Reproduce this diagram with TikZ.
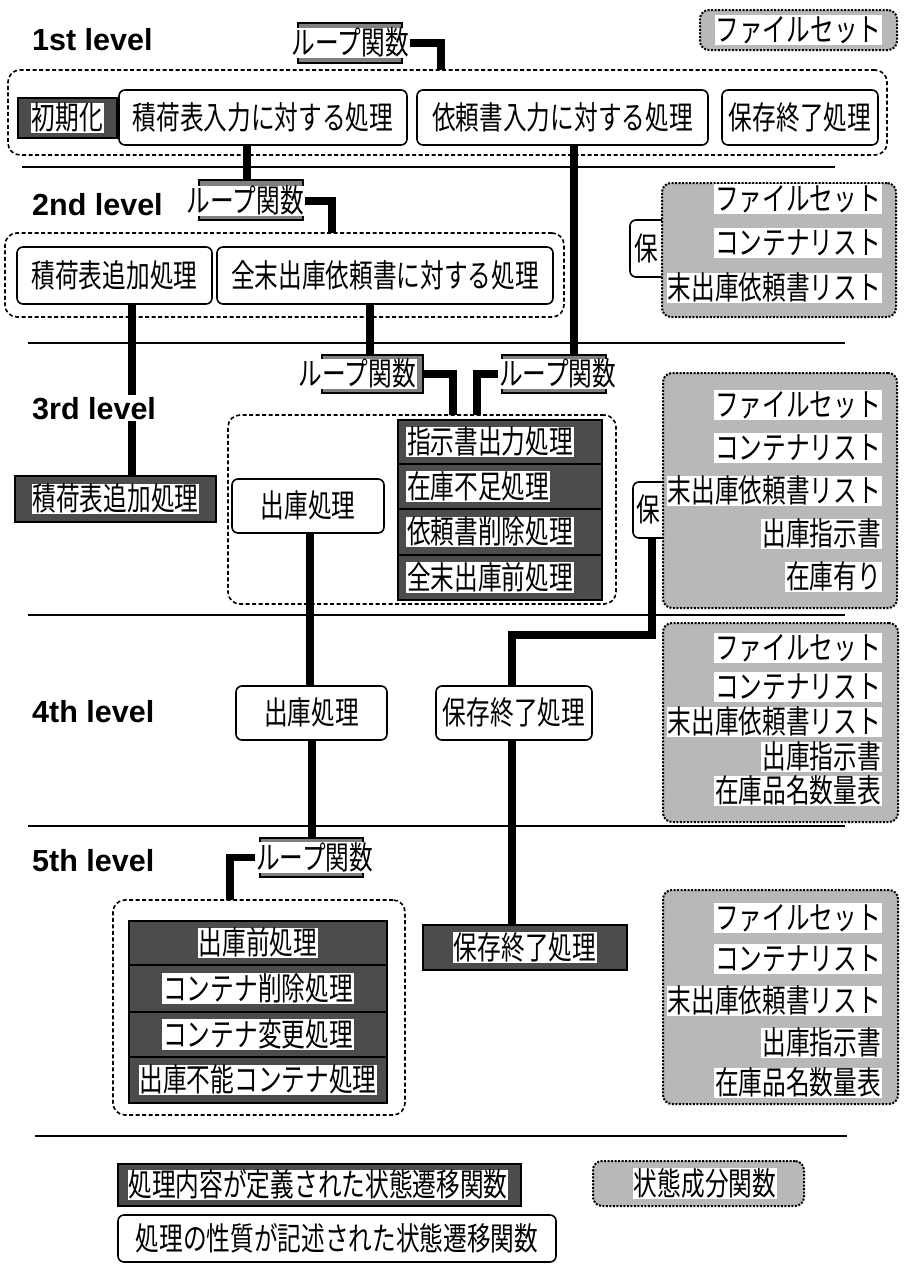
\documentclass[tikz,border=0pt]{standalone}
\usepackage{fontspec}
\newfontfamily\jp[FakeStretch=0.74]{Noto Sans CJK JP}
\newfontfamily\lvf{Liberation Sans}
\newcommand\jpf{\jp\fontsize{32}{34}\selectfont}
\newcommand\lvfont{\lvf\bfseries\fontsize{30.5}{32}\selectfont}
\pgfdeclarelayer{bg}
\pgfsetlayers{bg,main}
\begin{document}
\begin{tikzpicture}[x=1pt,y=-1pt,
  lvl/.style={font=\lvfont, anchor=west, fill=white, inner xsep=1pt, inner ysep=2pt, text height=22pt, text depth=0pt},
  jt/.style={font=\jpf, fill=white, inner xsep=1pt, inner ysep=0pt, text height=27pt, text depth=3.5pt},
  pbox/.style={draw, line width=1.6pt, rounded corners=6pt, fill=white, font=\jpf, inner sep=0pt, text height=27pt, text depth=3.5pt},
  dbox/.style={draw, line width=1.8pt, fill=black!70, inner sep=0pt},
  sbox/.style={draw, line width=2pt, dash pattern=on 2pt off 1.5pt, rounded corners=9pt, fill=black!28, inner sep=0pt},
  lbox/.style={draw, line width=1.6pt, fill=black!50, inner sep=0pt},
  grp/.style={draw, line width=1.6pt, dash pattern=on 4pt off 2.5pt, rounded corners=12pt, inner sep=0pt},
  conn/.style={line width=7.5pt},
  sepline/.style={line width=2pt}]
\useasboundingbox (0,0) rectangle (903,1264);

% ---------- 1st level
\node[lvl] (lv1) at (31,39) {1st level};
\node[lbox, minimum width=104, minimum height=40] (lp1b) at (350,43) {};
\node[jt, anchor=east] (lp1) at (410,43) {ループ関数};
\node[sbox, minimum width=197, minimum height=40] (fs1) at (798.5,30) {};
\node[jt] (fs1t) at (fs1) {ファイルセット};
\node[grp, minimum width=879, minimum height=85] (g1) at (447.5,112.5) {};
\node[dbox, minimum width=99, minimum height=40] (ini) at (67.5,118) {};
\node[jt] (init) at (ini) {初期化};
\node[pbox, minimum width=288, minimum height=55] (n11) at (263,117.5) {積荷表入力に対する処理};
\node[pbox, minimum width=291, minimum height=55] (n12) at (562.5,117.5) {依頼書入力に対する処理};
\node[pbox, minimum width=156, minimum height=55] (n13) at (800,117.5) {保存終了処理};

% ---------- 2nd level
\node[lvl] (lv2) at (31,204) {2nd level};
\node[lbox, minimum width=104, minimum height=40] (lp2b) at (251,200) {};
\node[jt, anchor=east] (lp2) at (305,201) {ループ関数};
\node[grp, minimum width=559, minimum height=84] (g2) at (284.5,275) {};
\node[pbox, minimum width=195, minimum height=57] (n21) at (114.5,275.5) {積荷表追加処理};
\node[pbox, minimum width=336, minimum height=57] (n22) at (385,275.5) {全末出庫依頼書に対する処理};
\node[pbox, minimum width=70, minimum height=57] (ho2) at (665,248.5) {};
\node[jt] (ho2t) at (646,248.5) {保};
\node[sbox, minimum width=234, minimum height=134] (sb2) at (779,250) {};
\node[jt, anchor=east] (sb2a) at (882,199) {ファイルセット};
\node[jt, anchor=east] (sb2b) at (882,243) {コンテナリスト};
\node[jt, anchor=east] (sb2c) at (882,288) {末出庫依頼書リスト};

% ---------- 3rd level
\node[lvl] (lv3) at (31,408) {3rd level};
\node[lbox, minimum width=101, minimum height=38] (lp3ab) at (372.5,374) {};
\node[jt, anchor=east] (lp3a) at (417,374) {ループ関数};
\node[lbox, minimum width=104, minimum height=38] (lp3bb) at (554,374) {};
\node[jt, anchor=west] (lp3b) at (498,374) {ループ関数};
\node[dbox, minimum width=201, minimum height=46] (n31) at (115.5,499) {};
\node[jt] (n31t) at (n31) {積荷表追加処理};
\node[grp, minimum width=388, minimum height=189] (g3) at (422,509.5) {};
\node[pbox, minimum width=152, minimum height=54] (n32) at (308,506) {出庫処理};
\node[dbox, minimum width=204, minimum height=44] (r31) at (500,442) {};
\node[jt, anchor=west] (r31t) at (406,442) {指示書出力処理};
\node[dbox, minimum width=204, minimum height=45] (r32) at (500,486.5) {};
\node[jt, anchor=west] (r32t) at (406,486.5) {在庫不足処理};
\node[dbox, minimum width=204, minimum height=46] (r33) at (500,532) {};
\node[jt, anchor=west] (r33t) at (406,532) {依頼書削除処理};
\node[dbox, minimum width=204, minimum height=45] (r34) at (500,577.5) {};
\node[jt, anchor=west] (r34t) at (406,577.5) {全末出庫前処理};
\node[pbox, minimum width=67, minimum height=56] (ho3) at (666.5,510) {};
\node[jt] (ho3t) at (648,510) {保};
\node[sbox, minimum width=234, minimum height=235] (sb3) at (780,490.5) {};
\node[jt, anchor=east] (sb3a) at (882,405) {ファイルセット};
\node[jt, anchor=east] (sb3b) at (882,448) {コンテナリスト};
\node[jt, anchor=east] (sb3c) at (882,491) {末出庫依頼書リスト};
\node[jt, anchor=east] (sb3d) at (882,534) {出庫指示書};
\node[jt, anchor=east] (sb3e) at (882,577) {在庫有り};

% ---------- 4th level
\node[lvl] (lv4) at (31,711) {4th level};
\node[pbox, minimum width=151, minimum height=54] (n41) at (311.5,713) {出庫処理};
\node[pbox, minimum width=156, minimum height=54] (n42) at (514,713) {保存終了処理};
\node[sbox, minimum width=235, minimum height=199] (sb4) at (780.5,722.5) {};
\node[jt, anchor=east] (sb4a) at (882,648) {ファイルセット};
\node[jt, anchor=east] (sb4b) at (882,687) {コンテナリスト};
\node[jt, anchor=east] (sb4c) at (882,722) {末出庫依頼書リスト};
\node[jt, anchor=east] (sb4d) at (882,757) {出庫指示書};
\node[jt, anchor=east] (sb4e) at (882,791) {在庫品名数量表};

% ---------- 5th level
\node[lvl] (lv5) at (31,860) {5th level};
\node[lbox, minimum width=103, minimum height=39] (lp5b) at (311.5,857.5) {};
\node[jt, anchor=west] (lp5) at (255,857.5) {ループ関数};
\node[grp, minimum width=292, minimum height=215] (g5) at (259,1007.5) {};
\node[dbox, minimum width=258, minimum height=44] (r51) at (258,943) {};
\node[jt] (r51t) at (r51) {出庫前処理};
\node[dbox, minimum width=258, minimum height=47] (r52) at (258,988.5) {};
\node[jt] (r52t) at (r52) {コンテナ削除処理};
\node[dbox, minimum width=258, minimum height=45] (r53) at (258,1034.5) {};
\node[jt] (r53t) at (r53) {コンテナ変更処理};
\node[dbox, minimum width=258, minimum height=46] (r54) at (258,1080) {};
\node[jt] (r54t) at (r54) {出庫不能コンテナ処理};
\node[dbox, minimum width=204, minimum height=45] (n52) at (525,947.5) {};
\node[jt] (n52t) at (n52) {保存終了処理};
\node[sbox, minimum width=235, minimum height=214] (sb5) at (780.5,997) {};
\node[jt, anchor=east] (sb5a) at (882,918) {ファイルセット};
\node[jt, anchor=east] (sb5b) at (882,959) {コンテナリスト};
\node[jt, anchor=east] (sb5c) at (882,1001) {末出庫依頼書リスト};
\node[jt, anchor=east] (sb5d) at (882,1043) {出庫指示書};
\node[jt, anchor=east] (sb5e) at (882,1083) {在庫品名数量表};

% ---------- legend
\node[dbox, minimum width=403, minimum height=42] (lg1) at (319.5,1185) {};
\node[jt] (lg1t) at (318,1185) {処理内容が定義された状態遷移関数};
\node[sbox, minimum width=211, minimum height=45] (lg2) at (698.5,1183.5) {};
\node[jt] (lg2t) at (705,1183.5) {状態成分関数};
\node[pbox, minimum width=438, minimum height=47] (lg3) at (337,1238.5) {処理の性質が記述された状態遷移関数};

% ---------- separators and connectors
\begin{pgfonlayer}{bg}
\coordinate (s1a) at (22,167);  \coordinate (s1b) at (835,167);
\coordinate (s2a) at (28,343);  \coordinate (s2b) at (845,343);
\coordinate (s3a) at (28,615);  \coordinate (s3b) at (845,615);
\coordinate (s4a) at (28,826);  \coordinate (s4b) at (845,826);
\coordinate (s5a) at (35,1136); \coordinate (s5b) at (847,1136);
\draw[sepline] (s1a) -- (s1b);
\draw[sepline] (s2a) -- (s2b);
\draw[sepline] (s3a) -- (s3b);
\draw[sepline] (s4a) -- (s4b);
\draw[sepline] (s5a) -- (s5b);

\coordinate (c1) at (441,70);
\draw[conn] (lp1.east) -| (c1);
\coordinate (v1) at (247,0);
\draw[conn] (n11.south -| v1) -- (lp2b.north -| v1);
\coordinate (c2) at (332,233);
\draw[conn] (lp2.east) -| (c2);
\coordinate (v2) at (574,0);
\draw[conn] (n12.south -| v2) -- (lp3bb.north -| v2);
\coordinate (v3) at (132,0);
\draw[conn] (n21.south -| v3) -- (n31.north -| v3);
\coordinate (v4) at (370,0);
\draw[conn] (n22.south -| v4) -- (lp3ab.north -| v4);
\coordinate (c3a) at (453,415);
\draw[conn] (lp3ab.east) -| (c3a);
\coordinate (c3b) at (477,415);
\draw[conn] (lp3b.west) -| (c3b);
\coordinate (v5) at (310,0);
\draw[conn] (n32.south -| v5) -- (n41.north -| v5);
\coordinate (v6) at (652,0);
\coordinate (k1) at (512,635);
\draw[conn] (ho3.south -| v6) |- (k1) -- (n42.north -| k1);
\coordinate (v7) at (312,0);
\draw[conn] (n41.south -| v7) -- (lp5b.north -| v7);
\coordinate (c5) at (230,900);
\draw[conn] (lp5.west) -| (c5);
\draw[conn] (n42.south -| k1) -- (n52.north -| k1);
\end{pgfonlayer}
\end{tikzpicture}
\end{document}
